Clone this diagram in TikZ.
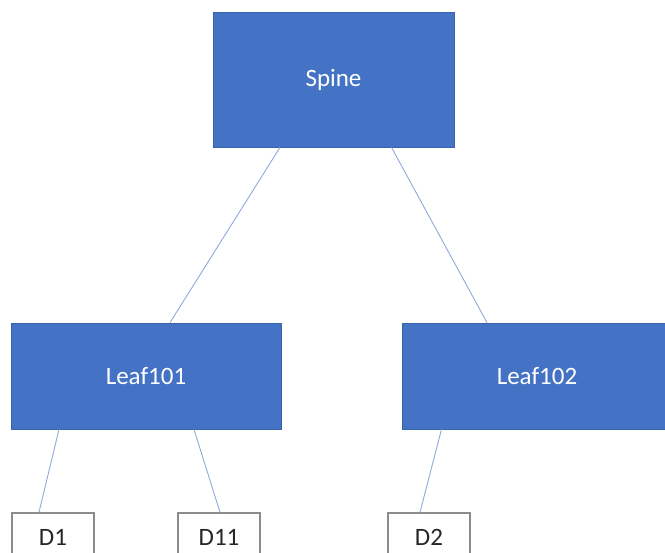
\documentclass[tikz,border=0pt]{standalone}
\usepackage{xcolor}
\usepackage{tikz}
\usepackage{fontspec}
\setmainfont{Carlito}
\usetikzlibrary{positioning}
\definecolor{switchblue}{HTML}{4472C4}
\definecolor{switchedge}{HTML}{3A62AA}
\definecolor{linkblue}{HTML}{8FAADC}
\definecolor{hostedge}{HTML}{8C8C8C}

\tikzset{
  switchbox/.style={draw=switchedge, line width=0.8pt, fill=switchblue, text=white,
    font=\fontsize{25}{30}\selectfont},
  hostbox/.style={draw=hostedge, line width=1.5pt, fill=white, text=black!85,
    minimum width=82pt, minimum height=48pt, font=\fontsize{25}{30}\selectfont},
  link/.style={draw=linkblue, line width=0.9pt}
}

\begin{document}
\begin{tikzpicture}[x=1pt, y=-1pt]
  \clip (0,0) rectangle (665,553);
  \fill[white] (0,0) rectangle (665,553);

  % Switche
  \node[switchbox, minimum width=241pt, minimum height=135pt] (spine) at (333.5,79.5) {Spine};
  \node[switchbox, minimum width=270pt, minimum height=106pt] (leaf101) at (146,376) {Leaf101};
  \node[switchbox, minimum width=270pt, minimum height=106pt] (leaf102) at (537,376) {Leaf102};

  % Koncova zarizeni
  \node[hostbox] (d1) at (53,537) {D1};
  \node[hostbox] (d11) at (219,537) {D11};
  \node[hostbox] (d2) at (429,537) {D2};

  % Spoje
  \draw[link] ([xshift=-53.5pt]spine.south) -- ([xshift=24pt]leaf101.north);
  \draw[link] ([xshift=58pt]spine.south) -- ([xshift=-50pt]leaf102.north);
  \draw[link] ([xshift=-87pt]leaf101.south) -- ([xshift=-14pt]d1.north);
  \draw[link] ([xshift=48pt]leaf101.south) -- ([xshift=1pt]d11.north);
  \draw[link] ([xshift=-95.5pt]leaf102.south) -- ([xshift=-9pt]d2.north);
\end{tikzpicture}
\end{document}
